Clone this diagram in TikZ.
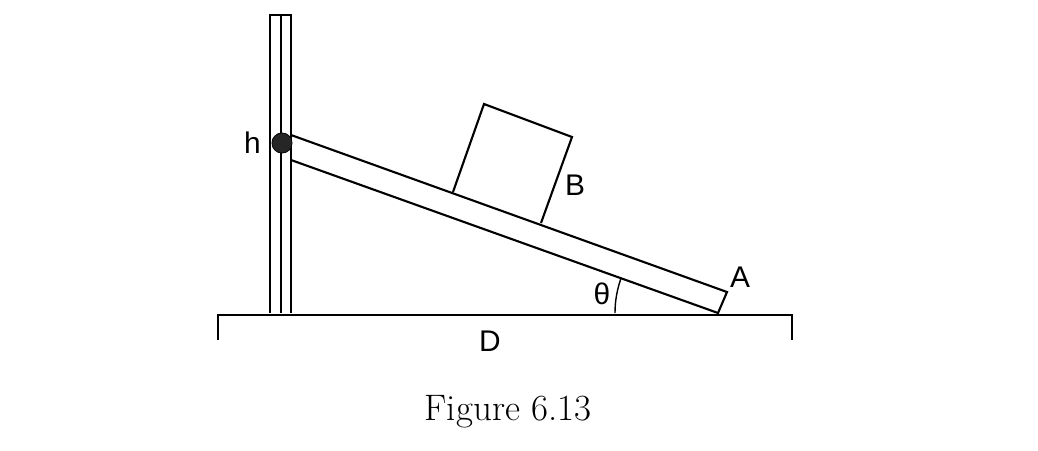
\documentclass[tikz,border=0pt]{standalone}
\usepackage{fontspec}
\newfontfamily\labelfont{Liberation Sans}
\usetikzlibrary{positioning}
\tikzset{
line/.style={draw, line width=1.2pt}, % ordinary outline
lbl/.style={font=\labelfont\fontsize{17pt}{17pt}\selectfont, inner sep=0pt}, % letter labels
}
\begin{document}
\begin{tikzpicture}[x=0.02cm, y=-0.02cm]
            \useasboundingbox (0,0) rectangle (1038,450);
            % post
            \coordinate (p1) at (270,313);
            \coordinate (p2) at (291,313);
            \draw[line] (p1) -- (270,15) -- (291,15) -- (p2);
            \draw[line] (281,15) -- (281,313);
            % ground
            \draw[line] (218,340) -- (218,315) -- (792,315) -- (792,340);
            % beam
            \coordinate (b1) at (291,135);
            \coordinate (b2) at (727,292);
            \coordinate (b3) at (718,313);
            \coordinate (b4) at (291,160);
            \draw[line] (b1) -- (b2) -- (b3) -- (b4);
            % block
            \draw[line] (453,192) -- (484,104) -- (572,137) -- (541,223);
            % angle
            \draw[line width=0.8pt] ([shift={(180:103)}]b3) arc[start angle=180, end angle=200, radius=103];
            \node[circle, fill=black!85, draw, minimum size=11.5pt, inner sep=0pt] (pivot) at (282,143) {};
            \node[lbl, left=6pt of pivot] (h) {h};
            \node[lbl] (B) at (575,185) {B};
            \node[lbl] (A) at (740,277) {A};
            \node[lbl, font=\fontsize{17pt}{17pt}\selectfont] (theta) at (602,294) {\labelfont θ};
            \node[lbl] (D) at (490,341) {D};
            \node[font=\fontsize{21pt}{21pt}\selectfont, inner sep=0pt] (cap) at (508,412) {Figure 6.13};
\end{tikzpicture}
\end{document}
